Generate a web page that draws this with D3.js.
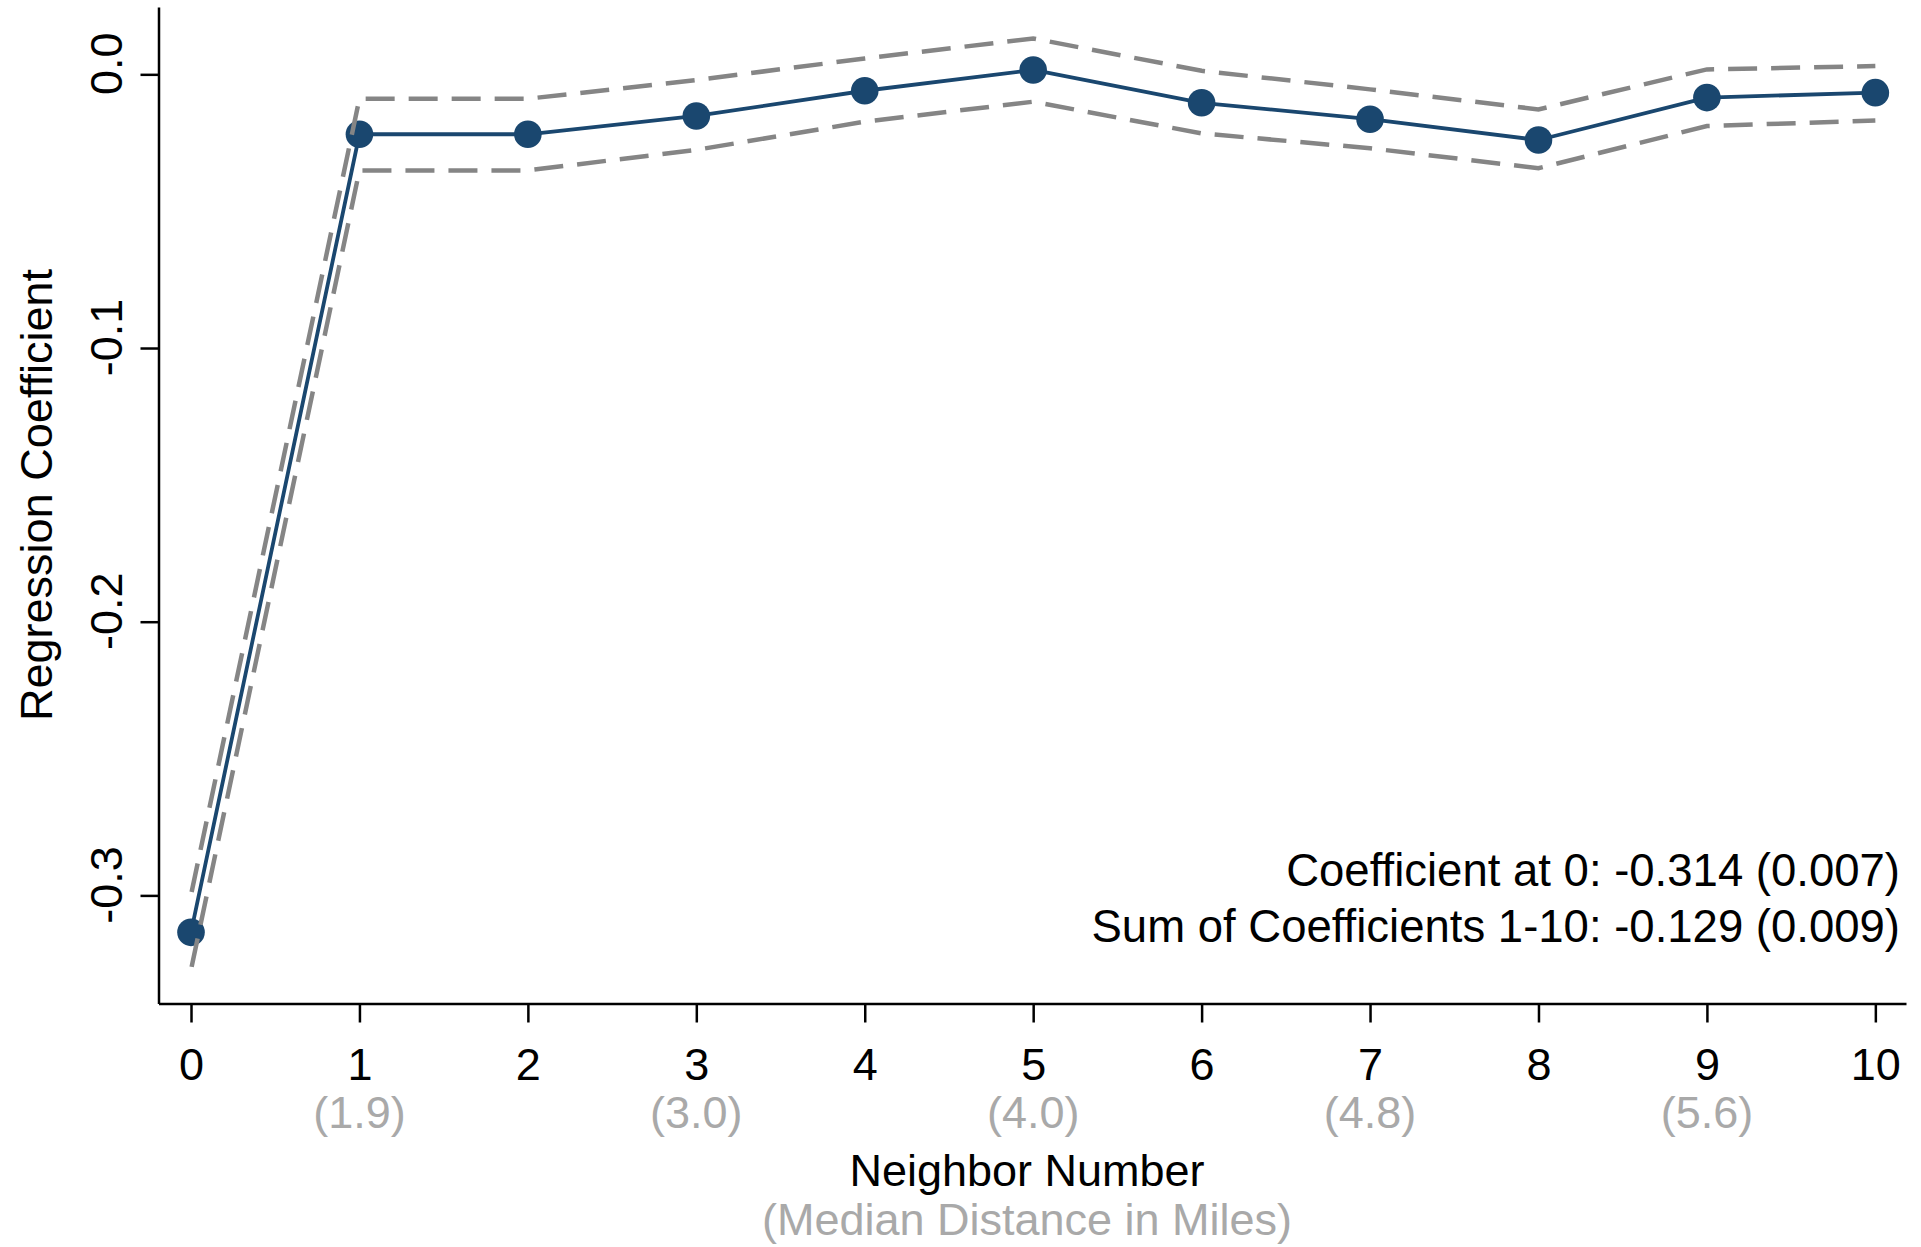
<!DOCTYPE html>
<html>
<head>
<meta charset="utf-8">
<script src="https://cdn.jsdelivr.net/npm/d3@7"></script>
<style>
  html, body { margin: 0; padding: 0; background: #fff; }
  svg { display: block; }
  text { font-family: "Liberation Sans", Arial, Helvetica, sans-serif; }
</style>
</head>
<body>
<div id="chart"></div>
<script>
// ---- data ----
const neighbors   = [0, 1, 2, 3, 4, 5, 6, 7, 8, 9, 10];
const coefficient = [-0.3135, -0.0219, -0.0219, -0.0152, -0.0060, 0.0016, -0.0104, -0.0164, -0.0240, -0.0085, -0.0067];
const ciUpper     = [-0.2998, -0.0089, -0.0089, -0.0021, 0.0058, 0.0131, 0.0013, -0.0055, -0.0128, 0.0018, 0.0030];
const ciLower     = [-0.3272, -0.0351, -0.0351, -0.0276, -0.0173, -0.0100, -0.0216, -0.0270, -0.0343, -0.0189, -0.0169];
const yTicks      = [0, -0.1, -0.2, -0.3];
const distTicks   = [1, 3, 5, 7, 9];
const distLabels  = ["(1.9)", "(3.0)", "(4.0)", "(4.8)", "(5.6)"];
const xTitle      = "Neighbor Number";
const xSubTitle   = "(Median Distance in Miles)";
const yTitle      = "Regression Coefficient";
const notes       = ["Coefficient at 0: -0.314 (0.007)", "Sum of Coefficients 1-10: -0.129 (0.009)"];

// ---- layout ----
const W = 1921, H = 1247;
const NAVY = "#1a476f", GRAY = "#858585", LIGHT = "#a9a9a9";
const FS = 45;

const svg = d3.select("#chart").append("svg").attr("width", W).attr("height", H);
svg.append("rect").attr("width", W).attr("height", H).attr("fill", "#fff");

const x = d3.scaleLinear().domain([-0.193, 10.182]).range([158.5, 1906]);
const y = d3.scaleLinear().domain([-0.3395, 0.0246]).range([1003.5, 7]);

// x axis
const xAxis = svg.append("g").attr("transform", `translate(0,${y.range()[0]})`)
  .call(d3.axisBottom(x).tickValues(neighbors).tickSize(19).tickSizeOuter(0).tickFormat(d => String(d)));
xAxis.select(".domain").attr("stroke", "#000").attr("stroke-width", 2.5);
xAxis.selectAll(".tick line").attr("stroke", "#000").attr("stroke-width", 2.5);
xAxis.selectAll(".tick text").attr("y", 76.5).attr("dy", 0)
  .attr("font-size", FS).attr("fill", "#000").attr("font-family", null);

// distance sublabels
svg.append("g").selectAll("text").data(distTicks).join("text")
  .attr("x", d => x(d)).attr("y", 1128)
  .attr("text-anchor", "middle").attr("font-size", FS).attr("fill", LIGHT)
  .text((d, i) => distLabels[i]);

// y axis
const yAxis = svg.append("g").attr("transform", `translate(${x.range()[0]},0)`)
  .call(d3.axisLeft(y).tickValues(yTicks).tickSize(18).tickSizeOuter(0).tickFormat(d => d.toFixed(1)));
yAxis.select(".domain").attr("stroke", "#000").attr("stroke-width", 2.5);
yAxis.selectAll(".tick line").attr("stroke", "#000").attr("stroke-width", 2.5);
yAxis.selectAll(".tick text")
  .attr("x", 0).attr("y", 0).attr("dy", 0)
  .attr("transform", "translate(-37,-11) rotate(-90)")
  .attr("text-anchor", "middle")
  .attr("font-size", FS).attr("fill", "#000").attr("font-family", null);

// titles
svg.append("text").attr("x", 1027).attr("y", 1186).attr("text-anchor", "middle")
  .attr("font-size", FS).attr("fill", "#000").text(xTitle);
svg.append("text").attr("x", 1027).attr("y", 1235).attr("text-anchor", "middle")
  .attr("font-size", FS).attr("fill", LIGHT).text(xSubTitle);
svg.append("text").attr("transform", "translate(52,495) rotate(-90)").attr("text-anchor", "middle")
  .attr("font-size", FS).attr("fill", "#000").text(yTitle);

// notes
svg.append("g").selectAll("text").data(notes).join("text")
  .attr("x", 1900).attr("y", (d, i) => 886 + i * 56)
  .attr("text-anchor", "end").attr("font-size", 45.5).attr("fill", "#000")
  .text(d => d);

// series
const pts = neighbors.map((n, i) => ({ n, c: coefficient[i], u: ciUpper[i], l: ciLower[i] }));
const lineC = d3.line().x(d => x(d.n)).y(d => y(d.c));
const lineU = d3.line().x(d => x(d.n)).y(d => y(d.u));
const lineL = d3.line().x(d => x(d.n)).y(d => y(d.l));

svg.append("path").datum(pts).attr("d", lineC)
  .attr("fill", "none").attr("stroke", NAVY).attr("stroke-width", 3.8).attr("stroke-linejoin", "round");
svg.append("g").selectAll("circle").data(pts).join("circle")
  .attr("cx", d => x(d.n)).attr("cy", d => y(d.c)).attr("r", 13.8).attr("fill", NAVY);

[lineU, lineL].forEach(gen => {
  svg.append("path").datum(pts).attr("d", gen)
    .attr("fill", "none").attr("stroke", GRAY).attr("stroke-width", 4.5)
    .attr("stroke-dasharray", "29,14").attr("stroke-dashoffset", 40)
    .attr("stroke-linejoin", "miter");
});
</script>
</body>
</html>
